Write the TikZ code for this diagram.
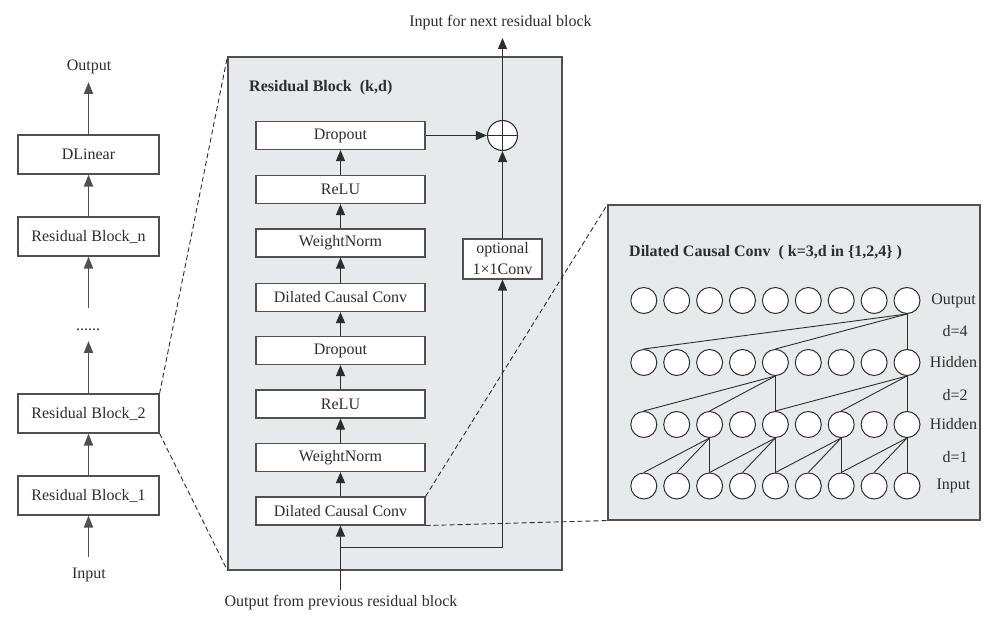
\documentclass[tikz,border=0pt]{standalone}
\usepackage{fontspec}
\setmainfont{Liberation Serif}
\usetikzlibrary{arrows.meta}
\definecolor{lineC}{RGB}{80,80,80}
\definecolor{textC}{RGB}{45,45,45}
\definecolor{fillC}{RGB}{231,234,237}
\newcommand{\fs}{\fontsize{16}{21}\selectfont}
\begin{document}
\begin{tikzpicture}[x=1pt,y=-1pt,
  every node/.style={text=textC, font=\fs},
  lbox/.style={draw=lineC, line width=1.2pt, fill=white, minimum width=141pt, minimum height=39pt, inner sep=0pt},
  mbox/.style={draw=lineC, line width=1.1pt, fill=white, minimum width=169pt, minimum height=28pt, inner sep=0pt},
  larr/.style={draw=lineC, line width=1.8pt, -{Triangle[length=12pt,width=9pt]}},
  marr/.style={draw=textC, line width=1.1pt, -{Triangle[length=11pt,width=9pt]}},
  panel/.style={draw=lineC, line width=1.1pt, fill=fillC, inner sep=0pt},
  unit/.style={circle, draw=textC, line width=1pt, fill=white, minimum size=26pt, inner sep=0pt},
  link/.style={draw=textC, line width=0.9pt},
  zoomline/.style={draw=textC, line width=0.9pt, dash pattern=on 5pt off 3pt}
]
\useasboundingbox (0,0) rectangle (985,617);

% ---------- left column ----------
\node[lbox] (dl) at (88.5,154.5) {DLinear};
\node[lbox] (bn) at (88.5,236.5) {Residual Block\_n};
\node[lbox] (b2) at (88.5,413.5) {Residual Block\_2};
\node[lbox] (b1) at (88.5,495.5) {Residual Block\_1};
\node (outL) at (89,67) {Output};
\node (inL) at (89,575) {Input};
\node[anchor=base, inner sep=0pt] (dots) at (88,331) {......};
\coordinate (inTail) at (88.5,557);
\coordinate (dotTip) at (88.5,341);
\coordinate (dotTail) at (88.5,308);
\coordinate (outTip) at (88.5,82);
\draw[larr] (inTail) -- (b1.south);
\draw[larr] (b1.north) -- (b2.south);
\draw[larr] (b2.north) -- (dotTip);
\draw[larr] (dotTail) -- (bn.south);
\draw[larr] (bn.north) -- (dl.south);
\draw[larr] (dl.north) -- (outTip);

% ---------- residual block panel ----------
\node[panel, minimum width=334pt, minimum height=513pt] (rb) at (395,313.5) {};
\draw[zoomline] (b2.north east) -- (rb.north west);
\draw[zoomline] (b2.south east) -- (rb.south west);
\node[anchor=west, inner sep=0pt, font=\fs\bfseries] (rbT) at (249,88) {Residual Block\ \ (k,d)};

\node[mbox] (m1) at (340.5,511) {Dilated Causal Conv};
\node[mbox] (m2) at (340.5,457.5) {WeightNorm};
\node[mbox] (m3) at (340.5,404) {ReLU};
\node[mbox] (m4) at (340.5,350.5) {Dropout};
\node[mbox] (m5) at (340.5,297.5) {Dilated Causal Conv};
\node[mbox] (m6) at (340.5,243) {WeightNorm};
\node[mbox] (m7) at (340.5,189.5) {ReLU};
\node[mbox] (m8) at (340.5,135.5) {Dropout};
\foreach \a/\b in {m1/m2,m2/m3,m3/m4,m4/m5,m5/m6,m6/m7,m7/m8}
  \draw[marr] (\a.north) -- (\b.south);

\node[circle, draw=textC, line width=1.1pt, fill=white, minimum size=30pt, inner sep=0pt] (plus) at (502.5,135.5) {};
\draw[textC, line width=1.1pt] (plus.north) -- (plus.south) (plus.west) -- (plus.east);
\draw[marr] (m8.east) -- (plus.west);

\node[draw=lineC, line width=1.1pt, fill=white, align=center, minimum width=79pt, minimum height=40pt, inner sep=0pt] (opt) at (502.5,259) {optional\\1×1Conv};
\draw[marr] (opt.north) -- (plus.south);
\coordinate (nextTip) at (502.5,38);
\draw[marr] (plus.north) -- (nextTip);
\node (nextT) at (500.5,23) {Input for next residual block};

\coordinate (prevTail) at (340.5,590);
\coordinate (split) at (340.5,547.5);
\draw[marr] (prevTail) -- (m1.south);
\draw[marr] (split) -| (opt.south);
\node (prevT) at (341,603) {Output from previous residual block};

% ---------- dilated causal conv panel ----------
\node[panel, minimum width=372pt, minimum height=315pt] (dc) at (794,362.5) {};
\draw[zoomline] (m1.north east) -- (dc.north west);
\draw[zoomline] (m1.south east) -- (dc.south west);
\node[anchor=west, inner sep=0pt, font=\fs\bfseries] (dcT) at (629,253) {Dilated Causal Conv\ \ ( k=3,d in \{1,2,4\} )};

\foreach \r/\y in {0/486,1/424.5,2/362.5,3/300.5}
  \foreach \i in {0,...,8}
    \node[unit] (u\r-\i) at ({643.8+32.9*\i},\y) {};

% d=1
\foreach \j in {2,4,6,8}{
  \pgfmathtruncatemacro{\ja}{\j-1}
  \pgfmathtruncatemacro{\jb}{\j-2}
  \draw[link] (u1-\j.south) -- (u0-\j.north);
  \draw[link] (u1-\j.south) -- (u0-\ja.north);
  \draw[link] (u1-\j.south) -- (u0-\jb.north);
}
% d=2
\foreach \j in {4,8}{
  \pgfmathtruncatemacro{\ja}{\j-2}
  \pgfmathtruncatemacro{\jb}{\j-4}
  \draw[link] (u2-\j.south) -- (u1-\j.north);
  \draw[link] (u2-\j.south) -- (u1-\ja.north);
  \draw[link] (u2-\j.south) -- (u1-\jb.north);
}
% d=4
\draw[link] (u3-8.south) -- (u2-8.north);
\draw[link] (u3-8.south) -- (u2-4.north);
\draw[link] (u3-8.south) -- (u2-0.north);

\node (lOut) at (953.5,300.5) {Output};
\node (lD4) at (955,331) {d=4};
\node (lH2) at (953.5,362.5) {Hidden};
\node (lD2) at (955,395) {d=2};
\node (lH1) at (953.5,424.5) {Hidden};
\node (lD1) at (955,457) {d=1};
\node (lIn) at (953.5,486) {Input};
\end{tikzpicture}
\end{document}
